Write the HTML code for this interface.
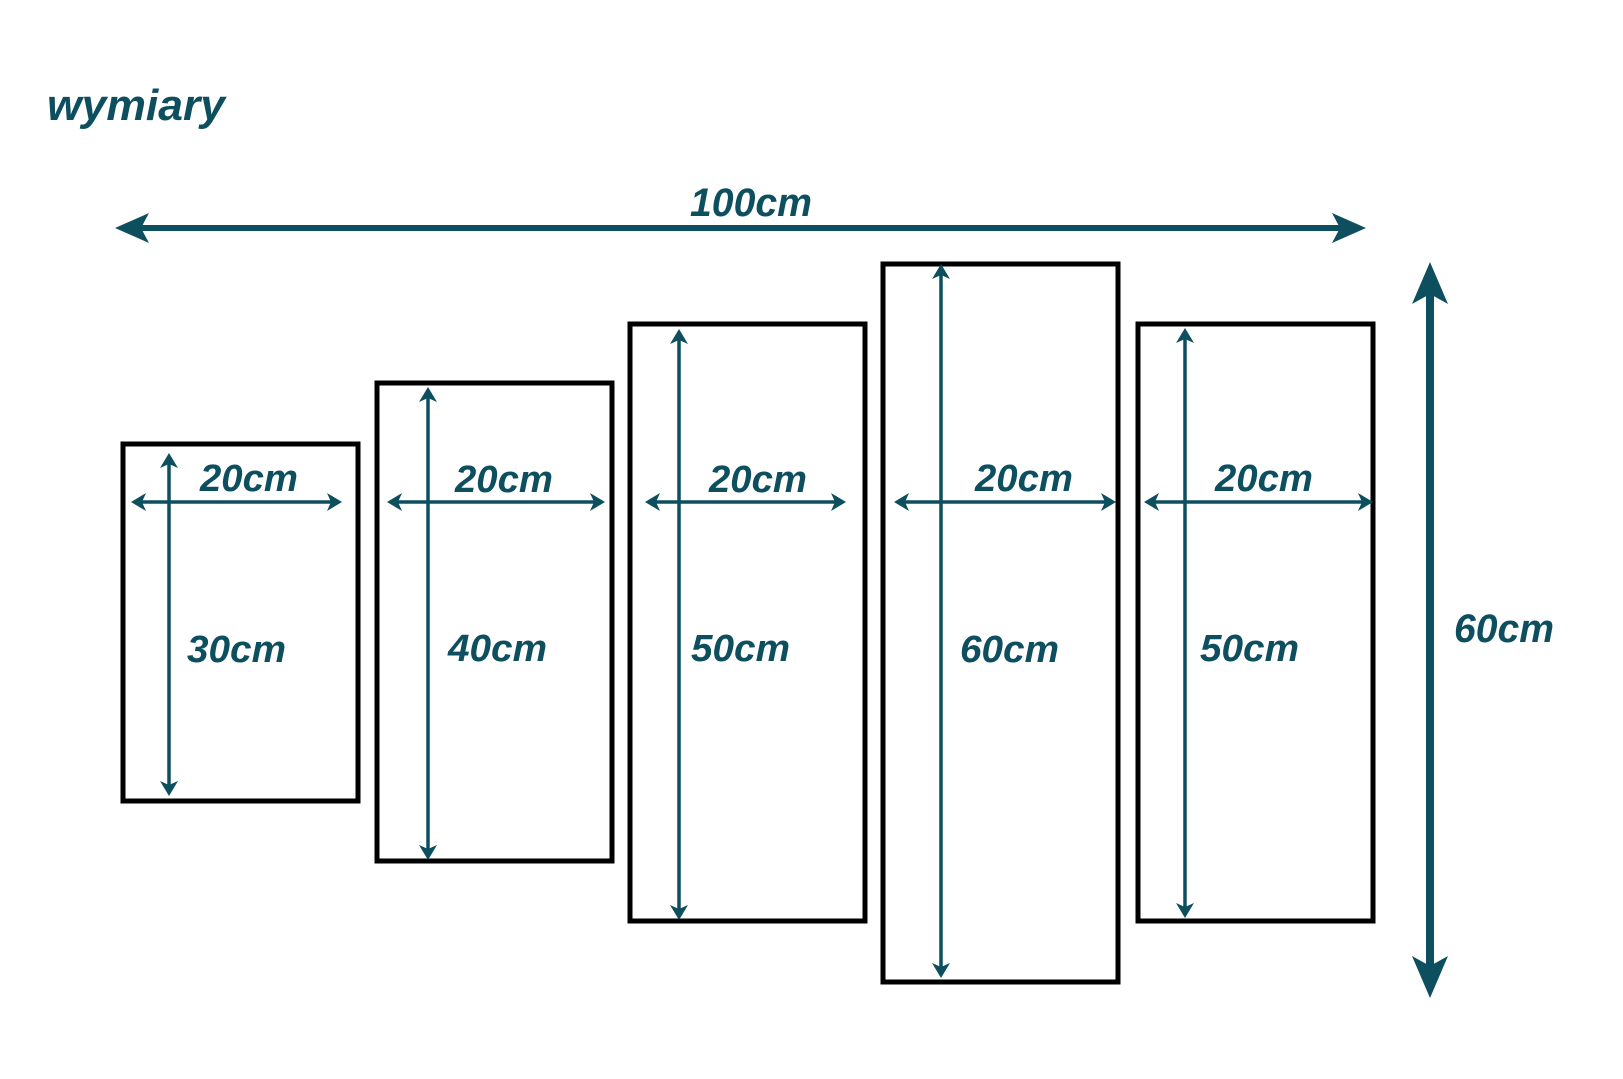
<!DOCTYPE html>
<html><head><meta charset="utf-8"><style>
html,body{margin:0;padding:0;background:#fff;}
svg{display:block;}
text{font-family:"Liberation Sans",sans-serif;font-weight:bold;font-style:italic;fill:#0d4f5e;}
</style></head><body>
<svg width="1623" height="1079" viewBox="0 0 1623 1079" xmlns="http://www.w3.org/2000/svg">
<defs>
<marker id="a" viewBox="0 0 15 18" refX="7" refY="9" markerWidth="15" markerHeight="18" markerUnits="userSpaceOnUse" orient="auto-start-reverse">
<path d="M0,0 L15,9 L0,18 L4,9 Z" fill="#0d4f5e"/></marker>
<marker id="b" viewBox="0 0 34 30" refX="14" refY="15" markerWidth="34" markerHeight="30" markerUnits="userSpaceOnUse" orient="auto-start-reverse">
<path d="M0,0 L34,15 L0,30 L8,15 Z" fill="#0d4f5e"/></marker>
<marker id="c" viewBox="0 0 42 36" refX="16" refY="18" markerWidth="42" markerHeight="36" markerUnits="userSpaceOnUse" orient="auto-start-reverse">
<path d="M0,0 L42,18 L0,36 L10,18 Z" fill="#0d4f5e"/></marker>
</defs>
<text x="47" y="120" font-size="44" textLength="178" lengthAdjust="spacingAndGlyphs">wymiary</text>
<line x1="135" y1="228" x2="1346" y2="228" stroke="#0d4f5e" stroke-width="6" marker-start="url(#b)" marker-end="url(#b)"/>
<text x="690" y="216" font-size="40" textLength="122" lengthAdjust="spacingAndGlyphs">100cm</text>
<line x1="1430" y1="288" x2="1430" y2="972" stroke="#0d4f5e" stroke-width="8" marker-start="url(#c)" marker-end="url(#c)"/>
<text x="1454" y="642" font-size="40" textLength="100" lengthAdjust="spacingAndGlyphs">60cm</text>
<g fill="none" stroke="#000" stroke-width="5">
<rect x="123" y="444" width="235" height="357"/>
<rect x="377" y="383" width="235" height="478"/>
<rect x="630" y="324" width="235" height="597"/>
<rect x="883" y="264" width="235" height="718"/>
<rect x="1138" y="324" width="235" height="597"/>
</g>
<g stroke="#0d4f5e" stroke-width="3.5">
<line x1="139" y1="502" x2="334" y2="502" marker-start="url(#a)" marker-end="url(#a)"/>
<line x1="395" y1="502" x2="597" y2="502" marker-start="url(#a)" marker-end="url(#a)"/>
<line x1="653" y1="502" x2="838" y2="502" marker-start="url(#a)" marker-end="url(#a)"/>
<line x1="902" y1="502" x2="1108" y2="502" marker-start="url(#a)" marker-end="url(#a)"/>
<line x1="1152" y1="502" x2="1365" y2="502" marker-start="url(#a)" marker-end="url(#a)"/>
<line x1="169" y1="461" x2="169" y2="788" marker-start="url(#a)" marker-end="url(#a)"/>
<line x1="428" y1="395" x2="428" y2="852" marker-start="url(#a)" marker-end="url(#a)"/>
<line x1="679" y1="337" x2="679" y2="912" marker-start="url(#a)" marker-end="url(#a)"/>
<line x1="941" y1="272" x2="941" y2="970" marker-start="url(#a)" marker-end="url(#a)"/>
<line x1="1185" y1="336" x2="1185" y2="910" marker-start="url(#a)" marker-end="url(#a)"/>
</g>
<g font-size="38">
<text x="200" y="491" textLength="98" lengthAdjust="spacingAndGlyphs">20cm</text>
<text x="455" y="492" textLength="98" lengthAdjust="spacingAndGlyphs">20cm</text>
<text x="709" y="492" textLength="98" lengthAdjust="spacingAndGlyphs">20cm</text>
<text x="975" y="491" textLength="98" lengthAdjust="spacingAndGlyphs">20cm</text>
<text x="1215" y="491" textLength="98" lengthAdjust="spacingAndGlyphs">20cm</text>
<text x="187" y="662" textLength="99" lengthAdjust="spacingAndGlyphs">30cm</text>
<text x="448" y="661" textLength="99" lengthAdjust="spacingAndGlyphs">40cm</text>
<text x="691" y="661" textLength="99" lengthAdjust="spacingAndGlyphs">50cm</text>
<text x="960" y="662" textLength="99" lengthAdjust="spacingAndGlyphs">60cm</text>
<text x="1200" y="661" textLength="99" lengthAdjust="spacingAndGlyphs">50cm</text>
</g>
</svg>
</body></html>
